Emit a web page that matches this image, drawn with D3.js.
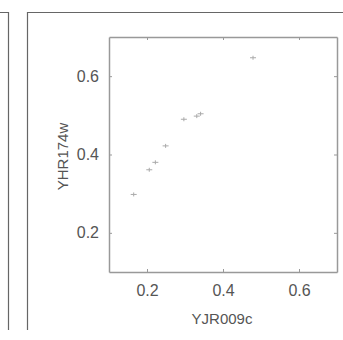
<!DOCTYPE html>
<html>
<head>
<meta charset="utf-8">
<script src="https://cdn.jsdelivr.net/npm/d3@7"></script>
<style>
    body { margin: 0; background: #fff; }
    .axis text { font-family: "Liberation Sans", Arial, sans-serif; font-size: 16px; fill: #555; }
    .axis path, .axis line { stroke: #999; }
    .label { font-family: "Liberation Sans", Arial, sans-serif; font-size: 15px; fill: #555; }
</style>
</head>
<body>
<div id="chart"></div>
<script>
// values
var xValues = [0.165, 0.206, 0.222, 0.249, 0.297, 0.331, 0.341, 0.479];
var yValues = [0.298, 0.361, 0.380, 0.422, 0.490, 0.498, 0.504, 0.647];
var tickValues = [0.2, 0.4, 0.6];
var xName = "YJR009c";
var yName = "YHR174w";


drawChart();


function drawChart() {
    var totalWidth = 343, totalHeight = 340;
    var margin = { left: 109, right: 6, top: 37, bottom: 68 };
    var width = 337 - margin.left;
    var height = 272 - margin.top;
    var fmt = d3.format(".1f");

    var svg = d3.select("#chart").append("svg")
        .attr("width", totalWidth)
        .attr("height", totalHeight);

    // panel frames
    svg.append("path")
        .attr("d", "M0,12.5H8.5V330")
        .attr("fill", "none")
        .attr("stroke", "#666")
        .attr("stroke-width", 1.2);
    svg.append("path")
        .attr("d", "M27.5,330V12.5H343")
        .attr("fill", "none")
        .attr("stroke", "#666")
        .attr("stroke-width", 1.2);

    var g = svg.append("g")
        .attr("transform", "translate(" + margin.left + "," + margin.top + ")");

    var x = d3.scaleLinear().domain([0.1, 0.7]).range([0, width]);
    var y = d3.scaleLinear().domain([0.1, 0.7]).range([height, 0]);

    // bottom and left axes, ticks pointing inwards
    g.append("g")
        .attr("class", "axis")
        .attr("transform", "translate(0," + height + ")")
        .call(d3.axisBottom(x).tickValues(tickValues).tickFormat(fmt).tickSize(-3).tickSizeOuter(0).tickPadding(13));

    g.append("g")
        .attr("class", "axis")
        .call(d3.axisLeft(y).tickValues(tickValues).tickFormat(fmt).tickSize(-3).tickSizeOuter(0).tickPadding(10));

    // mirror ticks on top and right
    g.append("g")
        .attr("class", "axis")
        .call(d3.axisTop(x).tickValues(tickValues).tickSize(-3).tickSizeOuter(0).tickFormat(""));

    g.append("g")
        .attr("class", "axis")
        .attr("transform", "translate(" + width + ",0)")
        .call(d3.axisRight(y).tickValues(tickValues).tickSize(-3).tickSizeOuter(0).tickFormat(""));

    g.selectAll(".axis path").attr("stroke-width", 1.5);

    // points drawn as small plus marks
    var pts = xValues.map(function (d, i) { return { x: d, y: yValues[i] }; });

    g.selectAll("path.pt")
        .data(pts)
        .enter().append("path")
        .attr("class", "pt")
        .attr("transform", function (d) { return "translate(" + x(d.x) + "," + y(d.y) + ")"; })
        .attr("d", "M-3,0H3M0,-2V2")
        .attr("stroke", "#aaa")
        .attr("stroke-width", 1);

    // axis labels
    svg.append("text")
        .attr("class", "label")
        .attr("x", margin.left + width / 2 - 1)
        .attr("y", 324)
        .style("text-anchor", "middle")
        .text(xName);

    svg.append("text")
        .attr("class", "label")
        .attr("transform", "translate(68," + (margin.top + height / 2 + 2) + ") rotate(-90)")
        .style("text-anchor", "middle")
        .text(yName);
}
</script>
</body>
</html>
